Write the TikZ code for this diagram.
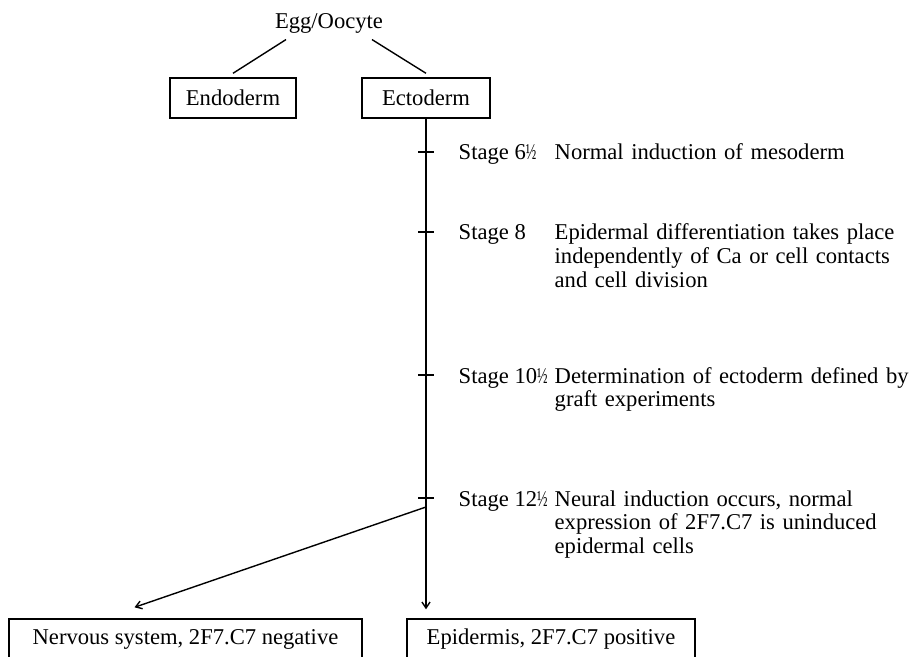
\documentclass[tikz,border=0pt]{standalone}
\usepackage{fontspec}
\setmainfont{Liberation Serif}
\usetikzlibrary{arrows.meta, positioning, calc}

% narrow one-half, as in the stage numbers
\newcommand{\halfmark}{\scalebox{0.62}[1]{½}}

\begin{document}
\begin{tikzpicture}[
  x=0.5pt, y=-0.5pt,
  font=\fontsize{11.3}{11.8}\selectfont,
  line width=0.7pt,
  box/.style={rectangle, draw, minimum height=20pt, inner xsep=6pt},
  stagelbl/.style={anchor=base west, inner sep=0pt},
  stagetxt/.style={anchor=base west, inner sep=0pt, text width=200pt, align=left},
  arrow/.style={-{Straight Barb[length=3pt,width=4pt]}}
]
  \clip (0,0) rectangle (914,657);
  % top of the tree
  \node[anchor=base, inner sep=0pt] (egg) at (329,29) {Egg/Oocyte};
  \node[box, minimum width=63pt] (endo) at (233,98) {Endoderm};
  \node[box, minimum width=64pt] (ecto) at (426,98) {Ectoderm};
  \draw ([xshift=-21.5pt,yshift=-2.5pt]egg.south) -- ([yshift=2pt]endo.north);
  \draw ([xshift=21.5pt,yshift=-2.5pt]egg.south) -- ([yshift=2pt]ecto.north);

  % bottom boxes
  \node[box, minimum width=176.5pt] (nerv) at (185.5,639) {Nervous system, 2F7.C7 negative};
  \node[box, minimum width=144pt] (epi) at (551,639) {Epidermis, 2F7.C7 positive};

  % stages along the ectoderm line
  \foreach \name/\y in {t1/152, t2/232, t3/375, t4/498} {
    \coordinate (\name) at (426,\y);
    \draw ([xshift=-4pt]\name) -- ([xshift=4pt]\name);
  }
  \node[stagelbl] (s1) at (458,160) {Stage 6\halfmark};
  \node[stagetxt] (d1) at (554,160) {Normal induction of mesoderm};
  \node[stagelbl] (s2) at (458,240) {Stage 8};
  \node[stagetxt] (d2) at (554,240) {Epidermal differentiation takes place\\ independently of Ca or cell contacts\\ and cell division};
  \node[stagelbl] (s3) at (458,383) {Stage 10\halfmark};
  \node[stagetxt] (d3) at (554,383) {Determination of ectoderm defined by\\ graft experiments};
  \node[stagelbl] (s4) at (458,506) {Stage 12\halfmark};
  \node[stagetxt] (d4) at (554,506) {Neural induction occurs, normal\\ expression of 2F7.C7 is uninduced\\ epidermal cells};

  % the two fates
  \coordinate (split) at (426,507);
  \draw[arrow, shorten >=4.5pt] (ecto.south) -- (ecto.south |- epi.north);
  \draw[arrow] (split) -- ($(nerv.north)+(-51,-11)$);
\end{tikzpicture}
\end{document}
